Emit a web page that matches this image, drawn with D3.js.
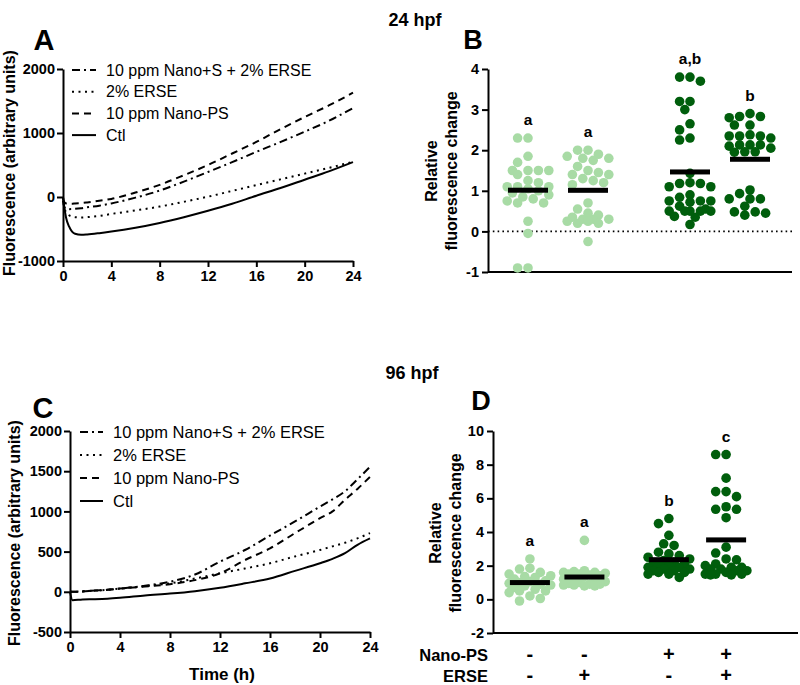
<!DOCTYPE html>
<html><head><meta charset="utf-8">
<script src="https://cdn.jsdelivr.net/npm/d3@7"></script>
<style>body{margin:0;background:#fff}svg{display:block;font-family:"Liberation Sans",Arial,sans-serif}</style>
</head><body><svg id="c" width="800" height="685"></svg>
<script>
// ---------- DATA ----------
const seriesNames = ["10 ppm Nano+S + 2% ERSE","2% ERSE","10 ppm Nano-PS","Ctl"];
const seriesDash = ["8,4,2,4","2,4.5","7,5",null];
// Panel A (24 hpf)
const timeA = [0,0.1,0.25,0.5,0.75,1,1.5,2,3,4,6,8,10,12,14,16,18,20,22,24];
const aNanoSErse = [-60,-150,-185,-190,-188,-185,-175,-160,-135,-100,-10,100,240,390,545,705,860,1020,1190,1390];
const aErse      = [0,-150,-240,-285,-305,-315,-320,-315,-295,-265,-210,-150,-75,5,95,185,275,365,455,550];
const aNanoPS    = [-20,-80,-100,-105,-105,-100,-95,-85,-60,-30,70,190,340,500,680,860,1060,1250,1430,1630];
const aCtl       = [0,-150,-320,-460,-540,-575,-590,-585,-565,-540,-480,-405,-315,-215,-105,20,140,270,400,545];
// Panel C (96 hpf)
const timeC = [0,0.2,1,2,3,4,6,8,10,12,14,16,18,20,21,22,23,24];
const cNanoSErse = [0,0,5,15,25,40,75,125,215,375,520,700,875,1060,1150,1250,1400,1555];
const cErse      = [0,0,5,15,25,40,70,105,165,230,290,355,440,520,565,610,665,730];
const cNanoPS    = [0,0,5,15,25,40,65,95,145,230,395,540,730,915,1000,1145,1280,1430];
const cCtl       = [0,-105,-95,-92,-86,-75,-45,-22,8,50,105,165,260,355,410,480,585,665];
const ticksA_y = [-1000,0,1000,2000];
const ticksC_y = [-500,0,500,1000,1500,2000];
const ticksX = [0,4,8,12,16,20,24];
// Panel B (24 hpf) relative fluorescence change
const b1 = [2.3,2.3,1.85,1.7,1.5,1.5,1.5,1.5,1.4,1.25,1.2,1.1,1.1,1.1,1.05,1.0,0.95,0.9,0.85,0.8,0.75,0.7,0.7,0.25,-0.05,-0.9,-0.9];
const b2 = [2.0,2.0,1.9,1.85,1.8,1.8,1.75,1.6,1.5,1.45,1.4,1.4,1.3,1.25,1.2,1.15,0.7,0.55,0.45,0.4,0.35,0.3,0.3,0.3,0.25,0.25,0.2,0.2,-0.25];
const b3 = [3.7,3.8,3.8,3.0,3.2,3.2,2.65,2.5,2.25,2.3,1.43,1.2,1.18,1.18,1.1,1.1,0.9,0.84,0.75,0.75,0.75,0.72,0.62,0.55,0.5,0.5,0.5,0.5,0.5,0.37,0.35,0.17];
const b4 = [2.9,2.83,2.83,2.8,2.62,2.62,2.38,2.35,2.35,2.35,2.3,2.13,2.1,2.13,2.05,2.13,1.96,1.96,1.95,1.02,0.93,0.8,0.8,0.8,0.62,0.48,0.48,0.45,0.4];
const lettersB = ["a","a","a,b","b"];
// Panel D (96 hpf)
const d1 = [2.4,1.85,1.8,1.6,1.5,1.4,1.35,1.3,1.2,1.1,1.05,1.0,0.95,0.9,0.85,0.8,0.7,0.6,0.5,0.5,0.4,0.2,0.05,-0.1];
const d2 = [3.5,1.7,1.65,1.6,1.6,1.55,1.5,1.5,1.45,1.4,1.35,1.3,1.2,1.1,1.05,1.0,0.95,0.9,0.9,0.85,0.85,0.8,0.8];
const d3v = [4.8,4.5,3.8,3.3,3.2,2.8,2.7,2.6,2.5,2.4,2.3,2.2,2.1,2.1,2.0,2.0,1.9,1.9,1.8,1.8,1.7,1.7,1.6,1.6,1.5,1.5,1.3];
const d4 = [8.6,8.6,7.2,6.4,6.4,6.1,5.5,5.35,5.35,4.85,3.1,2.75,2.4,2.35,2.1,2.0,1.9,1.9,1.8,1.8,1.7,1.7,1.6,1.5,1.5,1.5,1.45,1.45];
const lettersD = ["a","a","b","c"];
const nanoPS = ["-","-","+","+"];
const erse = ["-","+","-","+"];
const ticksB_y = [-1,0,1,2,3,4];
const ticksD_y = [-2,0,2,4,6,8,10];
const groupColors = ["#a8dba5","#a8dba5","#005e0c","#005e0c"];

// ---------- DRAW ----------
const svg = d3.select("#c");
const FONT = "'Liberation Sans',Arial,sans-serif";
const fmt = d => String(d);

function text(x,y,t,size,anchor,opts={}){
  const el = svg.append("text").attr("x",x).attr("y",y).text(t)
    .attr("font-size",size).attr("font-weight",opts.weight||"bold")
    .attr("text-anchor",anchor||"start").attr("fill","#000");
  if(opts.rotate) el.attr("transform",`rotate(-90,${x},${y})`);
  if(opts.dy) el.attr("dy",opts.dy);
  return el;
}
function styleAxis(g){
  g.selectAll(".domain").attr("stroke","#000").attr("stroke-width",2);
  g.selectAll(".tick line").attr("stroke","#000").attr("stroke-width",2);
  g.selectAll(".tick text").attr("font-size",14.5).attr("font-weight","bold").attr("font-family",FONT).attr("fill","#000");
}

function linePanel(cfg){
  const x = d3.scaleLinear().domain([0,24]).range([cfg.x0,cfg.x1]);
  const y = d3.scaleLinear().domain(cfg.ydom).range([cfg.y0,cfg.y1]);
  const gx = svg.append("g").attr("transform",`translate(0,${cfg.y0})`)
    .call(d3.axisBottom(x).tickValues(ticksX).tickFormat(fmt).tickSize(6).tickPadding(4).tickSizeOuter(0));
  styleAxis(gx);
  const gy = svg.append("g").attr("transform",`translate(${cfg.x0},0)`)
    .call(d3.axisLeft(y).tickValues(cfg.yticks).tickFormat(fmt).tickSize(6).tickPadding(2).tickSizeOuter(0));
  styleAxis(gy);
  const line = d3.line().x(d=>x(d[0])).y(d=>y(d[1])).curve(d3.curveMonotoneX);
  cfg.series.forEach((vals,i)=>{
    const p = svg.append("path").datum(cfg.time.map((t,j)=>[t,vals[j]]))
      .attr("d",line).attr("fill","none").attr("stroke","#000").attr("stroke-width",2);
    if(seriesDash[i]) p.attr("stroke-dasharray",seriesDash[i]);
  });
  seriesNames.forEach((n,i)=>{
    const ly = cfg.legY + i*cfg.legStep;
    const l = svg.append("line").attr("x1",cfg.legX).attr("x2",cfg.legX+cfg.legLen)
      .attr("y1",ly).attr("y2",ly).attr("stroke","#000").attr("stroke-width",2);
    if(seriesDash[i]) l.attr("stroke-dasharray",seriesDash[i]);
    text(cfg.legX+cfg.legLen+10,ly,n,cfg.legFont,"start",{weight:"normal",dy:"0.35em"});
  });
  text(cfg.ylabX,cfg.ylabY,"Fluorescence (arbitrary units)",16,"middle",{rotate:true});
}

linePanel({x0:63,x1:353,y0:261,y1:69,ydom:[-1000,2000],yticks:ticksA_y,time:timeA,
  series:[aNanoSErse,aErse,aNanoPS,aCtl],legX:72,legLen:24,legY:70,legStep:21.7,legFont:16,ylabX:15,ylabY:163});
linePanel({x0:70,x1:370,y0:632,y1:431,ydom:[-500,2000],yticks:ticksC_y,time:timeC,
  series:[cNanoSErse,cErse,cNanoPS,cCtl],legX:80,legLen:23,legY:432,legStep:23,legFont:16.5,ylabX:20,ylabY:533});
text(222,680,"Time (h)",17,"middle");

function swarm(values,cx,y,r,step){
  const sorted = values.slice().sort((a,b)=>b-a);
  const placed=[];
  sorted.forEach(v=>{
    const py=y(v); let best=null;
    for(let k=0;k<=4&&best===null;k++){
      for(const s of (k===0?[0]:[-k,k])){
        const px=cx+s*step;
        if(placed.every(p=>Math.hypot(p.x-px,p.y-py)>=2*r*0.92)){best=px;break;}
      }
    }
    if(best===null){
      let bestScore=Infinity;
      for(let s=-4;s<=4;s++){const px=cx+s*step;const m=d3.min(placed,p=>Math.hypot(p.x-px,p.y-py));const sc=-m;if(sc<bestScore){bestScore=sc;best=px;}}
    }
    placed.push({x:best,y:py});
  });
  return placed;
}

function dotPanel(cfg){
  const x = d3.scaleLinear().domain(cfg.xdom).range([cfg.x0,cfg.x1]);
  const y = d3.scaleLinear().domain(cfg.ydom).range([cfg.y0,cfg.y1]);
  const gy = svg.append("g").attr("transform",`translate(${cfg.x0},0)`)
    .call(d3.axisLeft(y).tickValues(cfg.yticks).tickFormat(fmt).tickSize(6).tickPadding(3).tickSizeOuter(0));
  styleAxis(gy);
  svg.append("line").attr("x1",cfg.x0).attr("x2",cfg.x1).attr("y1",cfg.y0).attr("y2",cfg.y0)
    .attr("stroke","#000").attr("stroke-width",2);
  if(cfg.zeroLine){
    svg.append("line").attr("x1",cfg.x0).attr("x2",cfg.x1).attr("y1",y(0)).attr("y2",y(0))
      .attr("stroke","#000").attr("stroke-width",1.6).attr("stroke-dasharray","1.6,3.2");
  }
  cfg.groups.forEach((vals,i)=>{
    const cx = x(cfg.pos[i]);
    const pts = swarm(vals,cx,y,4.8,5.2);
    svg.append("g").selectAll("circle").data(pts).join("circle")
      .attr("cx",d=>d.x).attr("cy",d=>d.y).attr("r",4.8).attr("fill",groupColors[i]);
    const m = d3.mean(vals);
    svg.append("rect").attr("x",cx-20).attr("width",40).attr("y",y(m)-2.5).attr("height",5).attr("fill","#000");
    text(cx, y(d3.max(vals))-13, cfg.letters[i], 15.5, "middle");
  });
  text(cfg.labX1,cfg.labY,"Relative",16,"middle",{rotate:true});
  text(cfg.labX2,cfg.labY,"fluorescence change",16,"middle",{rotate:true});
  return x;
}

dotPanel({x0:488,x1:792,y0:272,y1:69,ydom:[-1,4],yticks:ticksB_y,xdom:[1/3,5.4],pos:[1,2,3.7,4.7],
  groups:[b1,b2,b3,b4],letters:lettersB,zeroLine:true,labX1:437,labX2:457,labY:171});
const xD = dotPanel({x0:493,x1:798,y0:633,y1:431,ydom:[-2,10],yticks:ticksD_y,xdom:[1-42/62,1+305/62],pos:[1,2,3.55,4.6],
  groups:[d1,d2,d3v,d4],letters:lettersD,zeroLine:false,labX1:441,labX2:461,labY:533});
[1,2,3.55,4.6].forEach((p,i)=>{
  text(xD(p),661,nanoPS[i],20,"middle");
  text(xD(p),682,erse[i],20,"middle");
});
text(488,661,"Nano-PS",16.5,"end");
text(488,682,"ERSE",16.5,"end");

// titles and panel letters
text(415,26,"24 hpf",18,"middle");
text(412,379,"96 hpf",18,"middle");
text(44,50,"A",29,"middle");
text(473,49,"B",27,"middle");
text(43,418,"C",29,"middle");
text(481,410,"D",27,"middle");
</script></body></html>
